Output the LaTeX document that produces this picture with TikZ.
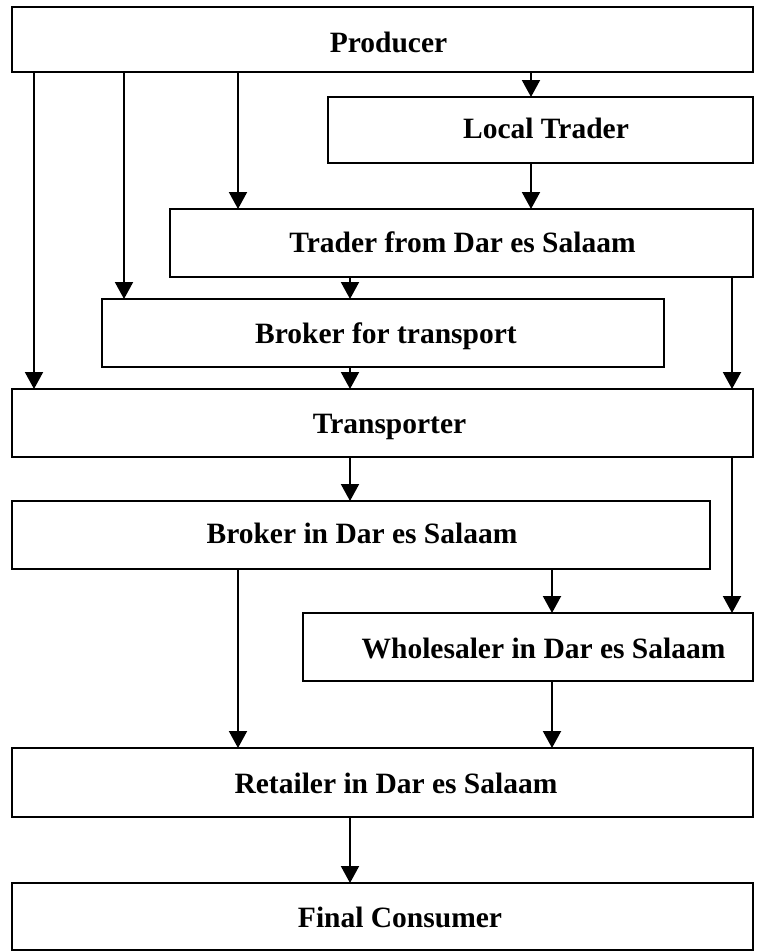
\documentclass[tikz,border=0pt]{standalone}
\usepackage{fontspec}
\setmainfont{Liberation Serif}
\usetikzlibrary{arrows.meta}
\begin{document}
\begin{tikzpicture}[x=1pt,y=-1pt,
  box/.style={draw, line width=2.3pt, rectangle, inner sep=0pt, outer sep=0pt},
  lbl/.style={anchor=base, inner sep=0pt, font=\fontsize{29.5}{35}\selectfont\bfseries},
  arr/.style={line width=2pt, -{Triangle[width=18pt,length=17pt]}}]
\useasboundingbox (0,0) rectangle (765,951);
% boxes
\node[box, minimum width=741pt, minimum height=65pt] (prod)  at (382.5,39.5) {};
\node[box, minimum width=425pt, minimum height=66pt] (local) at (540.5,130) {};
\node[box, minimum width=583pt, minimum height=68pt] (tdsm)  at (461.5,243) {};
\node[box, minimum width=562pt, minimum height=68pt] (brokT) at (383,333) {};
\node[box, minimum width=741pt, minimum height=68pt] (trans) at (382.5,423) {};
\node[box, minimum width=698pt, minimum height=68pt] (bdsm)  at (361,535) {};
\node[box, minimum width=450pt, minimum height=68pt] (whole) at (528,647) {};
\node[box, minimum width=741pt, minimum height=69pt] (ret)   at (382.5,782.5) {};
\node[box, minimum width=741pt, minimum height=67pt] (final) at (382.5,916.5) {};
% labels
\node[lbl] (prodT)  at (388.5,52)  {Producer};
\node[lbl] (localT) at (546,138)   {Local Trader};
\node[lbl] (tdsmT)  at (462.5,252) {Trader from Dar es Salaam};
\node[lbl] (brokTT) at (386,343)   {Broker for transport};
\node[lbl] (transT) at (389.5,433) {Transporter};
\node[lbl] (bdsmT)  at (362,543)   {Broker in Dar es Salaam};
\node[lbl] (wholeT) at (543.5,658) {Wholesaler in Dar es Salaam};
\node[lbl] (retT)   at (396,793)   {Retailer in Dar es Salaam};
\node[lbl] (finalT) at (400,927)   {Final Consumer};
% connector columns
\coordinate (xa) at (34,0);
\coordinate (xb) at (124,0);
\coordinate (xc) at (238,0);
\coordinate (xd) at (350,0);
\coordinate (xe) at (531,0);
\coordinate (xf) at (552,0);
\coordinate (xg) at (732,0);
% connectors
\draw[arr] (prod.south -| xa) -- (trans.north -| xa);
\draw[arr] (prod.south -| xb) -- (brokT.north -| xb);
\draw[arr] (prod.south -| xc) -- (tdsm.north -| xc);
\draw[arr] (prod.south -| xe) -- (local.north -| xe);
\draw[arr] (local.south -| xe) -- (tdsm.north -| xe);
\draw[arr] (tdsm.south -| xd) -- (brokT.north -| xd);
\draw[arr] (tdsm.south -| xg) -- (trans.north -| xg);
\draw[arr] (brokT.south -| xd) -- (trans.north -| xd);
\draw[arr] (trans.south -| xd) -- (bdsm.north -| xd);
\draw[arr] (trans.south -| xg) -- (whole.north -| xg);
\draw[arr] (bdsm.south -| xf) -- (whole.north -| xf);
\draw[arr] (bdsm.south -| xc) -- (ret.north -| xc);
\draw[arr] (whole.south -| xf) -- (ret.north -| xf);
\draw[arr] (ret.south -| xd) -- (final.north -| xd);
\end{tikzpicture}
\end{document}
